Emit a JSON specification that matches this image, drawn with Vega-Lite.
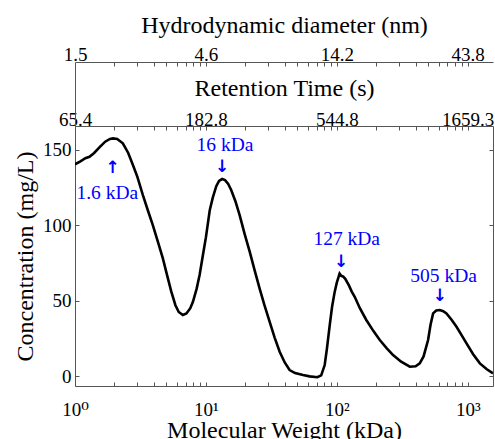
{
  "$schema": "https://vega.github.io/schema/vega-lite/v6.json",
  "width": 418,
  "height": 260,
  "autosize": {"type": "none"},
  "padding": {"left": 75, "top": 126, "right": 2, "bottom": 53},
  "background": "white",
  "config": {
    "view": {"stroke": "#555555", "strokeWidth": 1},
    "axis": {
      "grid": false,
      "labelFont": "Liberation Serif, DejaVu Serif, serif",
      "labelFontSize": 19,
      "labelColor": "black",
      "titleFont": "Liberation Serif, DejaVu Serif, serif",
      "titleFontSize": 24,
      "titleFontWeight": "normal",
      "titleColor": "black",
      "tickColor": "#555555",
      "domainColor": "#555555",
      "labelOverlap": false,
      "labelFlush": false
    }
  },
  "datasets": {
    "curve": [
      {"mw": 1.0, "c": 140.5}, {"mw": 1.1, "c": 142.5}, {"mw": 1.2, "c": 144.5}, {"mw": 1.29, "c": 145.5},
      {"mw": 1.4, "c": 148}, {"mw": 1.55, "c": 152}, {"mw": 1.7, "c": 155.5}, {"mw": 1.85, "c": 157.3},
      {"mw": 1.95, "c": 157.7}, {"mw": 2.1, "c": 157.3}, {"mw": 2.32, "c": 154.4}, {"mw": 2.55, "c": 148},
      {"mw": 2.77, "c": 140}, {"mw": 3.0, "c": 132}, {"mw": 3.3, "c": 120}, {"mw": 3.6, "c": 110},
      {"mw": 3.93, "c": 100.2}, {"mw": 4.3, "c": 89}, {"mw": 4.69, "c": 78.1}, {"mw": 5.05, "c": 67},
      {"mw": 5.44, "c": 56}, {"mw": 5.85, "c": 47}, {"mw": 6.2, "c": 42.5}, {"mw": 6.67, "c": 40.5},
      {"mw": 7.1, "c": 41.5}, {"mw": 7.6, "c": 45}, {"mw": 7.96, "c": 49.3}, {"mw": 8.5, "c": 58},
      {"mw": 8.95, "c": 67}, {"mw": 9.49, "c": 80.3}, {"mw": 10.0, "c": 92}, {"mw": 10.7, "c": 110},
      {"mw": 11.3, "c": 118.5}, {"mw": 12.0, "c": 126}, {"mw": 12.6, "c": 129.5}, {"mw": 13.3, "c": 130.7},
      {"mw": 14.0, "c": 130}, {"mw": 14.8, "c": 127.5}, {"mw": 15.6, "c": 123.4}, {"mw": 16.8, "c": 116},
      {"mw": 18.1, "c": 106.8}, {"mw": 19.8, "c": 94}, {"mw": 21.6, "c": 82.5}, {"mw": 23.6, "c": 70},
      {"mw": 25.7, "c": 58.2}, {"mw": 28.0, "c": 47}, {"mw": 30.7, "c": 36}, {"mw": 33.5, "c": 25.5},
      {"mw": 36.6, "c": 16.1}, {"mw": 40, "c": 9}, {"mw": 43.6, "c": 4}, {"mw": 48, "c": 2},
      {"mw": 55.2, "c": 0.7}, {"mw": 62, "c": -0.2}, {"mw": 71, "c": -0.8}, {"mw": 76, "c": 0.5},
      {"mw": 80.8, "c": 7.3}, {"mw": 84, "c": 18}, {"mw": 88.3, "c": 33.8}, {"mw": 92, "c": 46},
      {"mw": 96.4, "c": 56}, {"mw": 100, "c": 62}, {"mw": 105, "c": 68}, {"mw": 108, "c": 66.5},
      {"mw": 112, "c": 66}, {"mw": 116, "c": 64.5}, {"mw": 124, "c": 60}, {"mw": 130, "c": 56},
      {"mw": 137, "c": 52.6}, {"mw": 150, "c": 45}, {"mw": 168, "c": 37.2}, {"mw": 190, "c": 30},
      {"mw": 213, "c": 23.9}, {"mw": 240, "c": 18.5}, {"mw": 269, "c": 13.9}, {"mw": 310, "c": 9.5},
      {"mw": 361, "c": 6.2}, {"mw": 400, "c": 6.5}, {"mw": 430, "c": 8.4}, {"mw": 460, "c": 13},
      {"mw": 498, "c": 23.9}, {"mw": 520, "c": 34}, {"mw": 544, "c": 41.6}, {"mw": 575, "c": 43.5},
      {"mw": 612, "c": 43.8}, {"mw": 650, "c": 43}, {"mw": 688, "c": 41.6}, {"mw": 750, "c": 37.5},
      {"mw": 821, "c": 32.7}, {"mw": 900, "c": 27}, {"mw": 979, "c": 21.7}, {"mw": 1100, "c": 14.5},
      {"mw": 1238, "c": 8.4}, {"mw": 1400, "c": 4.5}, {"mw": 1560, "c": 1.8}
    ],
    "labels": [
      {"mw": 1.766, "c": 117.5, "label": "1.6 kDa"},
      {"mw": 14.0, "c": 149, "label": "16 kDa"},
      {"mw": 119, "c": 86.9, "label": "127 kDa"},
      {"mw": 654, "c": 62.6, "label": "505 kDa"}
    ],
    "arrows": [
      {"mw": 1.94, "c": 138, "glyph": "↑"},
      {"mw": 13.3, "c": 139, "glyph": "↓"},
      {"mw": 108, "c": 75.6, "glyph": "↓"},
      {"mw": 612, "c": 53, "glyph": "↓"}
    ]
  },
  "resolve": {"axis": {"x": "independent", "y": "independent"}},
  "layer": [
    {
      "data": {"name": "curve"},
      "mark": {"type": "line", "color": "black", "strokeWidth": 2.6, "clip": true},
      "encoding": {
        "x": {
          "field": "mw", "type": "quantitative",
          "scale": {"type": "log", "domain": [1, 1560], "nice": false},
          "axis": {
            "orient": "bottom",
            "values": [1,2,3,4,5,6,7,8,9,10,20,30,40,50,60,70,80,90,100,200,300,400,500,600,700,800,900,1000],
            "labelExpr": "datum.value == 1 ? '10⁰' : datum.value == 10 ? '10¹' : datum.value == 100 ? '10²' : datum.value == 1000 ? '10³' : ''",
            "tickSize": -4,
            "labelPadding": 33,
            "labelBaseline": "alphabetic",
            "domain": false,
            "title": "Molecular Weight (kDa)",
            "titleY": 51,
            "titleBaseline": "alphabetic"
          }
        },
        "y": {
          "field": "c", "type": "quantitative",
          "scale": {"domain": [-6.6, 165.9], "nice": false, "zero": false},
          "axis": {
            "orient": "left",
            "values": [0, 50, 100, 150],
            "tickSize": -4,
            "labelPadding": 8,
            "domain": false,
            "title": "Concentration (mg/L)",
            "titleX": -42.5,
            "titleBaseline": "alphabetic"
          }
        }
      }
    },
    {
      "data": {"name": "labels"},
      "mark": {"type": "text", "font": "Liberation Serif, DejaVu Serif, serif", "fontSize": 19.5, "color": "#0000ff", "baseline": "alphabetic", "align": "center"},
      "encoding": {
        "x": {
          "field": "mw", "type": "quantitative",
          "scale": {"type": "log", "domain": [1, 1560], "nice": false},
          "axis": {
            "orient": "top",
            "values": [1,2,3,4,5,6,7,8,9,10,20,30,40,50,60,70,80,90,100,200,300,400,500,600,700,800,900,1000],
            "labelExpr": "datum.value == 1 ? '65.4' : datum.value == 10 ? '182.8' : datum.value == 100 ? '544.8' : datum.value == 1000 ? '1659.3' : ''",
            "tickSize": -4,
            "labelPadding": 5,
            "labelBaseline": "alphabetic",
            "domain": false,
            "title": "Retention Time (s)",
            "titleY": -31,
            "titleBaseline": "alphabetic"
          }
        },
        "y": {
          "field": "c", "type": "quantitative",
          "scale": {"domain": [-6.6, 165.9], "nice": false, "zero": false},
          "axis": {
            "orient": "right",
            "values": [0, 50, 100, 150],
            "tickSize": -4,
            "labels": false,
            "domain": false,
            "title": null
          }
        },
        "text": {"field": "label"}
      }
    },
    {
      "data": {"name": "arrows"},
      "mark": {"type": "text", "font": "DejaVu Sans", "fontSize": 17, "fontWeight": "bold", "color": "#0000ff", "baseline": "middle", "align": "center"},
      "encoding": {
        "x": {
          "field": "mw", "type": "quantitative",
          "scale": {"type": "log", "domain": [1, 1560], "nice": false},
          "axis": {
            "orient": "top",
            "offset": 64,
            "values": [1,2,3,4,5,6,7,8,9,10,20,30,40,50,60,70,80,90,100,200,300,400,500,600,700,800,900,1000],
            "labelExpr": "datum.value == 1 ? '1.5' : datum.value == 10 ? '4.6' : datum.value == 100 ? '14.2' : datum.value == 1000 ? '43.8' : ''",
            "tickSize": {"condition": {"test": "datum.value == 1", "value": -64}, "value": -4},
            "labelPadding": {"condition": {"test": "datum.value == 1", "value": 65.7}, "value": 5.7},
            "labelBaseline": "alphabetic",
            "domain": true,
            "title": "Hydrodynamic diameter (nm)",
            "titleY": -30,
            "titleBaseline": "alphabetic"
          }
        },
        "y": {
          "field": "c", "type": "quantitative",
          "scale": {"domain": [-6.6, 165.9], "nice": false, "zero": false},
          "axis": null
        },
        "text": {"field": "glyph"}
      }
    }
  ]
}
